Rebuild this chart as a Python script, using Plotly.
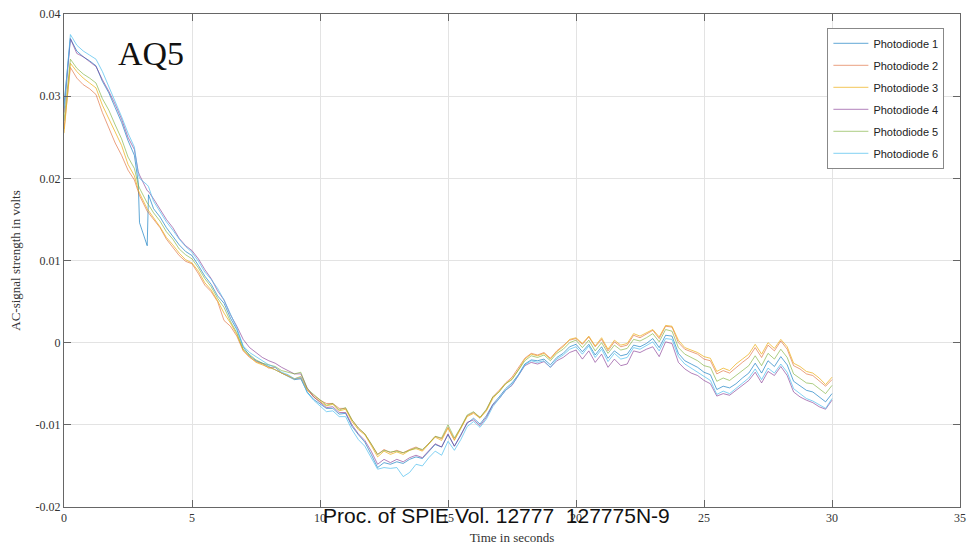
import plotly.graph_objects as go

# time axis (s): 0.25 s sampling plus a few extra samples around the glitch near 3 s
time_s = [i * 0.25 for i in range(12)] + [2.9, 2.95, 3.25, 3.3] + [3.5 + i * 0.25 for i in range(107)]

series_names = ["Photodiode 1", "Photodiode 2", "Photodiode 3",
                "Photodiode 4", "Photodiode 5", "Photodiode 6"]

pd1 = [0.0290, 0.0370, 0.0355, 0.0348, 0.0343, 0.0337, 0.0318, 0.0304, 0.0286, 0.0268,
       0.0246, 0.0228, 0.0195, 0.0146, 0.0118, 0.0180, 0.0163, 0.0153, 0.0140, 0.0130,
       0.0119, 0.0111, 0.0106, 0.0094, 0.0081, 0.0071, 0.0057, 0.0048, 0.0030, 0.0016,
       -0.0005, -0.0016, -0.0022, -0.0025, -0.0029, -0.0033, -0.0036, -0.0040, -0.0045, -0.0044,
       -0.0060, -0.0069, -0.0075, -0.0080, -0.0080, -0.0087, -0.0086, -0.0102, -0.0112, -0.0121,
       -0.0136, -0.0152, -0.0146, -0.0148, -0.0145, -0.0147, -0.0142, -0.0139, -0.0141, -0.0133,
       -0.0124, -0.0127, -0.0112, -0.0126, -0.0112, -0.0098, -0.0092, -0.0099, -0.0089, -0.0075,
       -0.0066, -0.0056, -0.0049, -0.0039, -0.0026, -0.0021, -0.0022, -0.0020, -0.0027, -0.0018,
       -0.0013, -0.0005, -0.0002, -0.0011, -0.0002, -0.0015, -0.0005, -0.0019, -0.0010, -0.0016,
       -0.0014, -0.0003, -0.0005, -0.0001, 0.0005, -0.0006, 0.0009, 0.0008, -0.0013, -0.0022,
       -0.0026, -0.0030, -0.0036, -0.0039, -0.0057, -0.0053, -0.0055, -0.0050, -0.0043, -0.0037,
       -0.0025, -0.0037, -0.0022, -0.0029, -0.0017, -0.0027, -0.0047, -0.0052, -0.0058, -0.0060,
       -0.0066, -0.0072, -0.0062]

pd2 = [0.0260, 0.0335, 0.0322, 0.0314, 0.0309, 0.0302, 0.0280, 0.0262, 0.0243, 0.0228,
       0.0210, 0.0198, 0.0183, 0.0179, 0.0160, 0.0158, 0.0150, 0.0140, 0.0126, 0.0116,
       0.0106, 0.0099, 0.0096, 0.0084, 0.0070, 0.0062, 0.0050, 0.0027, 0.0020, 0.0008,
       -0.0010, -0.0018, -0.0023, -0.0026, -0.0031, -0.0030, -0.0037, -0.0040, -0.0044, -0.0043,
       -0.0058, -0.0064, -0.0070, -0.0074, -0.0074, -0.0080, -0.0080, -0.0094, -0.0104, -0.0111,
       -0.0124, -0.0136, -0.0130, -0.0134, -0.0131, -0.0134, -0.0130, -0.0127, -0.0131, -0.0122,
       -0.0114, -0.0117, -0.0103, -0.0118, -0.0104, -0.0089, -0.0085, -0.0091, -0.0082, -0.0066,
       -0.0058, -0.0049, -0.0042, -0.0031, -0.0019, -0.0013, -0.0015, -0.0012, -0.0019, -0.0010,
       -0.0004, 0.0003, 0.0005, -0.0002, 0.0007, -0.0005, 0.0004, -0.0010, 0.0001, -0.0005,
       -0.0003, 0.0009, 0.0006, 0.0010, 0.0015, 0.0005, 0.0020, 0.0019, 0.0000, -0.0008,
       -0.0011, -0.0014, -0.0020, -0.0022, -0.0038, -0.0034, -0.0037, -0.0030, -0.0024, -0.0018,
       -0.0006, -0.0018, -0.0003, -0.0010, 0.0002, -0.0008, -0.0028, -0.0032, -0.0038, -0.0040,
       -0.0046, -0.0053, -0.0045]

pd3 = [0.0255, 0.0340, 0.0330, 0.0322, 0.0316, 0.0310, 0.0289, 0.0273, 0.0255, 0.0240,
       0.0217, 0.0203, 0.0186, 0.0182, 0.0163, 0.0161, 0.0152, 0.0141, 0.0128, 0.0119,
       0.0109, 0.0101, 0.0097, 0.0087, 0.0073, 0.0064, 0.0051, 0.0036, 0.0024, 0.0010,
       -0.0009, -0.0017, -0.0024, -0.0027, -0.0030, -0.0033, -0.0037, -0.0041, -0.0044, -0.0041,
       -0.0057, -0.0066, -0.0071, -0.0077, -0.0075, -0.0083, -0.0081, -0.0096, -0.0106, -0.0112,
       -0.0125, -0.0139, -0.0132, -0.0136, -0.0133, -0.0136, -0.0131, -0.0129, -0.0132, -0.0124,
       -0.0115, -0.0119, -0.0104, -0.0119, -0.0105, -0.0090, -0.0086, -0.0092, -0.0083, -0.0068,
       -0.0059, -0.0050, -0.0044, -0.0033, -0.0020, -0.0014, -0.0016, -0.0013, -0.0020, -0.0011,
       -0.0005, 0.0004, 0.0006, -0.0001, 0.0008, -0.0004, 0.0006, -0.0008, 0.0003, -0.0003,
       -0.0001, 0.0011, 0.0008, 0.0012, 0.0016, 0.0007, 0.0021, 0.0020, 0.0003, -0.0006,
       -0.0009, -0.0012, -0.0017, -0.0019, -0.0035, -0.0031, -0.0034, -0.0026, -0.0020, -0.0014,
       -0.0002, -0.0014, 0.0000, -0.0007, 0.0004, -0.0005, -0.0025, -0.0029, -0.0035, -0.0037,
       -0.0043, -0.0051, -0.0042]

pd4 = [0.0280, 0.0370, 0.0352, 0.0348, 0.0342, 0.0336, 0.0320, 0.0306, 0.0290, 0.0272,
       0.0250, 0.0235, 0.0208, 0.0204, 0.0185, 0.0184, 0.0175, 0.0163, 0.0150, 0.0140,
       0.0127, 0.0118, 0.0112, 0.0102, 0.0089, 0.0078, 0.0063, 0.0052, 0.0034, 0.0020,
       0.0004, -0.0006, -0.0012, -0.0018, -0.0022, -0.0025, -0.0030, -0.0034, -0.0038, -0.0038,
       -0.0055, -0.0066, -0.0072, -0.0079, -0.0078, -0.0085, -0.0085, -0.0100, -0.0111, -0.0119,
       -0.0132, -0.0148, -0.0142, -0.0146, -0.0142, -0.0145, -0.0140, -0.0137, -0.0140, -0.0132,
       -0.0123, -0.0127, -0.0111, -0.0126, -0.0113, -0.0097, -0.0094, -0.0101, -0.0091, -0.0076,
       -0.0068, -0.0058, -0.0052, -0.0040, -0.0028, -0.0024, -0.0026, -0.0023, -0.0030, -0.0022,
       -0.0018, -0.0012, -0.0009, -0.0020, -0.0010, -0.0024, -0.0014, -0.0030, -0.0020, -0.0028,
       -0.0026, -0.0010, -0.0012, -0.0008, -0.0005, -0.0017, 0.0001, -0.0001, -0.0024, -0.0032,
       -0.0037, -0.0040, -0.0046, -0.0050, -0.0065, -0.0062, -0.0064, -0.0058, -0.0052, -0.0046,
       -0.0036, -0.0049, -0.0035, -0.0040, -0.0029, -0.0040, -0.0060, -0.0066, -0.0070, -0.0073,
       -0.0078, -0.0081, -0.0070]

pd5 = [0.0270, 0.0345, 0.0334, 0.0327, 0.0322, 0.0316, 0.0297, 0.0283, 0.0265, 0.0248,
       0.0226, 0.0212, 0.0192, 0.0188, 0.0170, 0.0168, 0.0158, 0.0148, 0.0135, 0.0126,
       0.0114, 0.0107, 0.0102, 0.0091, 0.0078, 0.0068, 0.0054, 0.0043, 0.0026, 0.0012,
       -0.0008, -0.0014, -0.0021, -0.0025, -0.0027, -0.0029, -0.0034, -0.0036, -0.0038, -0.0036,
       -0.0056, -0.0063, -0.0070, -0.0076, -0.0074, -0.0082, -0.0079, -0.0094, -0.0104, -0.0111,
       -0.0123, -0.0136, -0.0131, -0.0133, -0.0132, -0.0134, -0.0131, -0.0128, -0.0130, -0.0123,
       -0.0114, -0.0116, -0.0100, -0.0116, -0.0103, -0.0088, -0.0084, -0.0091, -0.0081, -0.0066,
       -0.0060, -0.0050, -0.0045, -0.0034, -0.0022, -0.0016, -0.0018, -0.0015, -0.0022, -0.0013,
       -0.0008, 0.0000, 0.0003, -0.0006, 0.0003, -0.0010, 0.0000, -0.0013, -0.0003, -0.0009,
       -0.0007, 0.0004, 0.0002, 0.0006, 0.0011, 0.0001, 0.0016, 0.0014, -0.0006, -0.0014,
       -0.0018, -0.0022, -0.0028, -0.0030, -0.0047, -0.0043, -0.0046, -0.0040, -0.0034, -0.0028,
       -0.0016, -0.0028, -0.0013, -0.0020, -0.0008, -0.0018, -0.0038, -0.0043, -0.0049, -0.0050,
       -0.0056, -0.0062, -0.0052]

pd6 = [0.0285, 0.0375, 0.0362, 0.0355, 0.0350, 0.0345, 0.0330, 0.0312, 0.0293, 0.0275,
       0.0255, 0.0238, 0.0205, 0.0200, 0.0192, 0.0190, 0.0172, 0.0160, 0.0147, 0.0137,
       0.0126, 0.0117, 0.0110, 0.0099, 0.0086, 0.0077, 0.0066, 0.0052, 0.0034, 0.0018,
       -0.0004, -0.0012, -0.0017, -0.0022, -0.0027, -0.0030, -0.0036, -0.0039, -0.0044, -0.0042,
       -0.0061, -0.0070, -0.0077, -0.0084, -0.0083, -0.0090, -0.0090, -0.0106, -0.0118, -0.0126,
       -0.0140, -0.0154, -0.0152, -0.0153, -0.0152, -0.0163, -0.0158, -0.0148, -0.0150, -0.0140,
       -0.0132, -0.0137, -0.0120, -0.0131, -0.0118, -0.0102, -0.0096, -0.0103, -0.0093, -0.0078,
       -0.0068, -0.0058, -0.0051, -0.0040, -0.0027, -0.0022, -0.0024, -0.0022, -0.0030, -0.0020,
       -0.0015, -0.0008, -0.0005, -0.0014, -0.0004, -0.0018, -0.0008, -0.0023, -0.0013, -0.0020,
       -0.0018, -0.0006, -0.0008, -0.0004, 0.0001, -0.0010, 0.0005, 0.0004, -0.0017, -0.0026,
       -0.0031, -0.0036, -0.0042, -0.0046, -0.0063, -0.0059, -0.0062, -0.0056, -0.0049, -0.0043,
       -0.0032, -0.0045, -0.0031, -0.0037, -0.0026, -0.0036, -0.0056, -0.0062, -0.0068, -0.0071,
       -0.0076, -0.0080, -0.0068]

series_values = [pd1, pd2, pd3, pd4, pd5, pd6]
colors = ["rgba(0,114,189,0.62)", "rgba(217,83,25,0.55)", "rgba(237,177,32,0.75)",
          "rgba(126,47,142,0.6)", "rgba(119,172,48,0.6)", "rgba(77,190,238,0.7)"]

x_ticks = [0, 5, 10, 15, 20, 25, 30, 35]
y_ticks = [-0.02, -0.01, 0, 0.01, 0.02, 0.03, 0.04]
y_tick_labels = ["-0.02", "-0.01", "0", "0.01", "0.02", "0.03", "0.04"]

fig = go.Figure()
for name, vals, col in zip(series_names, series_values, colors):
    fig.add_trace(go.Scatter(x=time_s, y=vals, mode="lines", name=name,
                             legendgroup=name,
                             line=dict(color=col, width=1)))

serif = "Liberation Serif, Times New Roman, serif"
axis_common = dict(showline=True, linecolor="#666666", linewidth=1, mirror="ticks",
                   ticks="inside", ticklen=7, tickcolor="#666666",
                   showgrid=True, gridcolor="#e3e3e3", gridwidth=1,
                   zeroline=False, automargin=False,
                   tickfont=dict(family=serif, size=12, color="#333333"))

fig.update_xaxes(range=[0, 35], tickvals=x_ticks,
                 title=dict(text="Time in seconds", font=dict(family=serif, size=13, color="#333333"),
                            standoff=8),
                 **axis_common)
fig.update_yaxes(range=[-0.02, 0.04], tickvals=y_ticks, ticktext=y_tick_labels,
                 title=dict(text="AC-signal strength in volts", font=dict(family=serif, size=13, color="#333333"),
                            standoff=12),
                 **axis_common)

fig.add_annotation(x=3.4, y=0.0352, xref="x", yref="y", text="AQ5", showarrow=False,
                   font=dict(family=serif, size=34, color="#111111"))
fig.add_annotation(x=0.483, y=-0.017, xref="paper", yref="paper", yanchor="middle",
                   text="Proc. of SPIE Vol. 12777 \u00a0127775N-9", showarrow=False,
                   font=dict(family="Liberation Sans, Arial, sans-serif", size=21, color="#111111"))

fig.update_layout(
    width=967, height=546,
    margin=dict(l=64, r=7, t=14, b=39),
    paper_bgcolor="white", plot_bgcolor="white",
    showlegend=True,
    legend=dict(x=0.852, y=0.972, xanchor="left", yanchor="top",
                bgcolor="white", bordercolor="#888888", borderwidth=1,
                tracegroupgap=3, itemwidth=35,
                font=dict(family="Liberation Sans, Arial, sans-serif", size=11, color="#222222")),
)

fig.write_html("out.html")
